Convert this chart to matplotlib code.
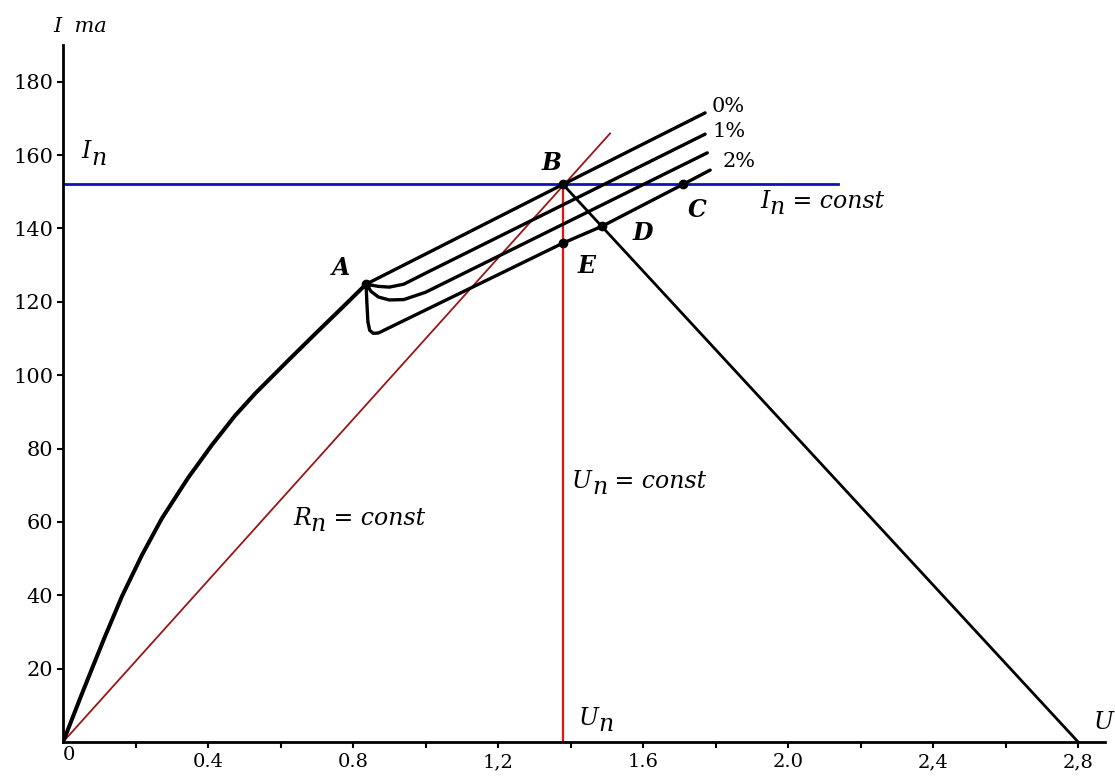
import numpy as np
import matplotlib
matplotlib.use('Agg')
import matplotlib.pyplot as plt

# Dati (U in volt, I in mA)
curve_u = [0, 0.02, 0.05, 0.08, 0.116, 0.163, 0.218, 0.273, 0.345, 0.411, 0.474, 0.530, 0.621, 0.695, 0.770, 0.836]
curve_i = [0, 5.0, 12.6, 20.0, 28.8, 39.8, 51.0, 61.0, 72.0, 81.0, 88.9, 95.0, 104.0, 111.2, 118.4, 124.8]

# famiglia di curve dopo il punto A (0%, 1%, 2% e curva inferiore)
line0_u = [0.836, 1.379, 1.771]
line0_i = [124.8, 152.0, 171.5]
line1_u = [0.836, 0.87, 0.90, 0.94, 1.00, 1.771]
line1_i = [124.8, 124.2, 124.0, 124.8, 127.8, 165.7]
line2_u = [0.836, 0.85, 0.87, 0.90, 0.94, 1.00, 1.777]
line2_i = [124.8, 122.8, 121.3, 120.5, 120.6, 122.6, 160.6]
line3_u = [0.836, 0.838, 0.841, 0.846, 0.856, 0.87, 1.379, 1.487, 1.710, 1.785]
line3_i = [124.8, 120.0, 114.5, 112.2, 111.4, 111.5, 136.0, 140.6, 152.0, 155.9]

# punti notevoli
pt_names = ['A', 'B', 'C', 'D', 'E']
pt_u = [0.836, 1.379, 1.710, 1.487, 1.379]
pt_i = [124.8, 152.0, 152.0, 140.6, 136.0]

u_n = 1.379          # tensione nominale
i_n = 152.0          # corrente nominale
u_max = 2.8          # fine retta di carico
r_line_u = [0, 1.509]
r_line_i = [0, 165.9]
i_line_end = 2.138

xtick_vals = [0.4, 0.8, 1.2, 1.6, 2.0, 2.4, 2.8]
xtick_labels = ['0.4', '0.8', '1,2', '1.6', '2.0', '2,4', '2,8']
ytick_vals = [20, 40, 60, 80, 100, 120, 140, 160, 180]

pct_labels = ['0%', '1%', '2%']
pct_u = [1.790, 1.790, 1.818]
pct_i = [171.7, 164.9, 156.7]

SERIF = 'DejaVu Serif'


def sub_text(ax, x, y, base, sub, rest='', size=17):
    # testo con pedice grande (stile Maple)
    t = ax.text(x, y, base, fontsize=size, style='italic', family=SERIF, va='baseline')
    s = ax.annotate(sub, xy=(1, 0), xycoords=t, xytext=(0, -4.5), textcoords='offset points',
                    fontsize=size, style='italic', family=SERIF, va='bottom')
    if rest:
        ax.annotate(rest, xy=(1, 0), xycoords=s, xytext=(0, 4.5), textcoords='offset points',
                    fontsize=size, style='italic', family=SERIF, va='bottom')


fig = plt.figure(figsize=(11.15, 7.78), dpi=100)
ax = fig.add_axes([63 / 1115, 36 / 778, (1105 - 63) / 1115, (742 - 45) / 778])

# rette
ax.plot(r_line_u, r_line_i, color='#9a1616', lw=1.3, zorder=2)
ax.plot([0, i_line_end], [i_n, i_n], color='#1212b8', lw=2, zorder=2)
ax.plot([u_n, u_n], [0, i_n], color='#e81010', lw=1.6, zorder=2)
ax.plot([u_n, u_max], [i_n, 0], color='black', lw=2, zorder=3)

# curve
ax.plot(curve_u, curve_i, color='black', lw=2.9, solid_capstyle='round', solid_joinstyle='round', zorder=4)
for lu, li in [(line0_u, line0_i), (line1_u, line1_i), (line2_u, line2_i), (line3_u, line3_i)]:
    ax.plot(lu, li, color='black', lw=2.4, solid_capstyle='round', solid_joinstyle='round', zorder=4)

ax.plot(pt_u, pt_i, 'o', color='black', ms=6, zorder=5)

# etichette dei punti
lab_u = [0.742, 1.321, 1.724, 1.570, 1.418]
lab_i = [127.2, 155.9, 143.1, 136.8, 127.8]
for name, lu, li in zip(pt_names, lab_u, lab_i):
    ax.text(lu, li, name, fontsize=17, fontweight='bold', style='italic', family=SERIF, va='baseline')

for lab, pu, pi in zip(pct_labels, pct_u, pct_i):
    ax.text(pu, pi, lab, fontsize=15, family=SERIF, va='baseline')

sub_text(ax, 0.052, 159.1, 'I', 'n')
sub_text(ax, 1.923, 145.5, 'I', 'n', ' = const')
sub_text(ax, 0.634, 59.1, 'R', 'n', ' = const')
sub_text(ax, 1.404, 69.2, 'U', 'n', ' = const')
sub_text(ax, 1.423, 4.6, 'U', 'n')
ax.text(2.844, 3.5, 'U', fontsize=17, style='italic', family=SERIF, va='baseline')
ax.text(-0.028, 193.5, 'I  ma', fontsize=15, style='italic', family=SERIF, va='baseline')

# assi
ax.set_xlim(0, 2.874)
ax.set_ylim(0, 190)
for side in ['top', 'right']:
    ax.spines[side].set_visible(False)
for side in ['left', 'bottom']:
    ax.spines[side].set_linewidth(2)

ax.set_yticks(ytick_vals)
ax.set_yticklabels([str(v) for v in ytick_vals], family=SERIF, fontsize=15)
ax.tick_params(axis='y', direction='out', length=4, width=1.5, pad=3)

ax.set_xticks(np.arange(0.2, 2.81, 0.2), minor=True)
ax.set_xticks(xtick_vals)
ax.set_xticklabels(xtick_labels, family=SERIF, fontsize=14)
ax.tick_params(axis='x', which='both', direction='out', length=4, width=1.5, pad=4)
ax.annotate('0', xy=(0, 0), xytext=(4, -3), textcoords='offset points', ha='center', va='top',
            fontsize=14, family=SERIF, annotation_clip=False)

fig.savefig('out.png', dpi=100)
